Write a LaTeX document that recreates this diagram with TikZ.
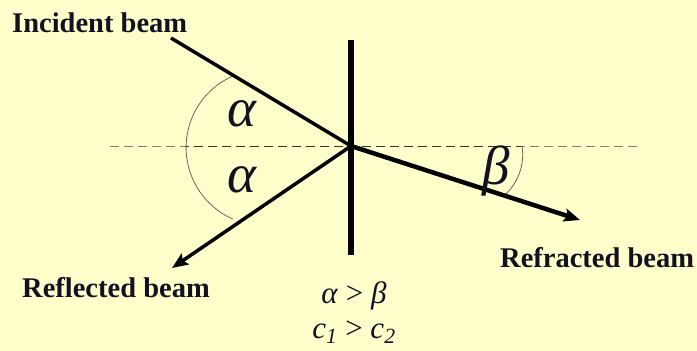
\documentclass[tikz,border=0pt]{standalone}
\usepackage{fontspec}
\setmainfont{Liberation Serif}
\usetikzlibrary{arrows.meta}
\definecolor{bg}{HTML}{FFFFCC}
\definecolor{ink}{HTML}{111122}
\tikzset{
  beam/.style={line width=3.5pt},
  beamarrow/.style={line width=3.5pt,-{Stealth[length=16pt,width=13pt,inset=3pt]}},
  wall/.style={line width=6pt},
  axis/.style={gray,line width=1pt,dash pattern=on 9pt off 5pt},
  axisdark/.style={black!80,line width=1pt,dash pattern=on 9pt off 5pt},
  anglearc/.style={black!60,line width=0.8pt},
  lbl/.style={text=ink,font=\fontsize{28.5}{32}\selectfont\bfseries,inner sep=0pt,anchor=base west},
  greek/.style={text=ink,font=\fontsize{55}{60}\selectfont\itshape,inner sep=0pt},
  rel/.style={text=ink,font=\fontsize{31}{34}\selectfont,inner sep=0pt,anchor=base}
}
\begin{document}
\begin{tikzpicture}[x=1pt,y=-1pt]
\fill[bg] (0,0) rectangle (697,351);
\useasboundingbox (0,0) rectangle (697,351);
% coordinates
\coordinate (O) at (351,146);
\coordinate (I) at (171,38);
\coordinate (R) at (172,268);
\coordinate (F) at (580,220);
\coordinate (W1) at (351,40);
\coordinate (W2) at (351,255);
\coordinate (D1) at (110,146);
\coordinate (D2) at (638,146);
\coordinate (A1) at (185,146);
\coordinate (B1) at (522,146);
% dashed normal
\draw[axis] (D1) -- (D2);
\draw[axisdark,dash phase=5pt] (A1) -- (O);
\draw[axisdark,dash phase=3pt] (O) -- (B1);
% angle arcs
\draw[anglearc] (233,76) arc[start angle=246.5,end angle=113.5,radius=78];
\draw[anglearc] (B1) .. controls (525,165) and (518,182) .. (506,194);
% wall
\draw[wall] (W1) -- (W2);
% beams
\draw[beam] (I) -- (O);
\draw[beamarrow] (O) -- (R);
\draw[beamarrow,line width=4.5pt] (O) -- (F);
% labels
\node[lbl] (inc) at (12,32) {Incident beam};
\node[lbl] (refl) at (22,297) {Reflected beam};
\node[lbl] (refr) at (500,267) {Refracted beam};
\node[greek] (a1) at (242,114) {α};
\node[greek] (a2) at (242,180) {α};
\node[greek] (b) at (496,171) {β};
\node[rel] (r1) at (354,303) {\textit{α} > \textit{β}};
\node[rel] (r2) at (354,338) {\textit{c\textsubscript{1}} > \textit{c\textsubscript{2}}};
\end{tikzpicture}
\end{document}
